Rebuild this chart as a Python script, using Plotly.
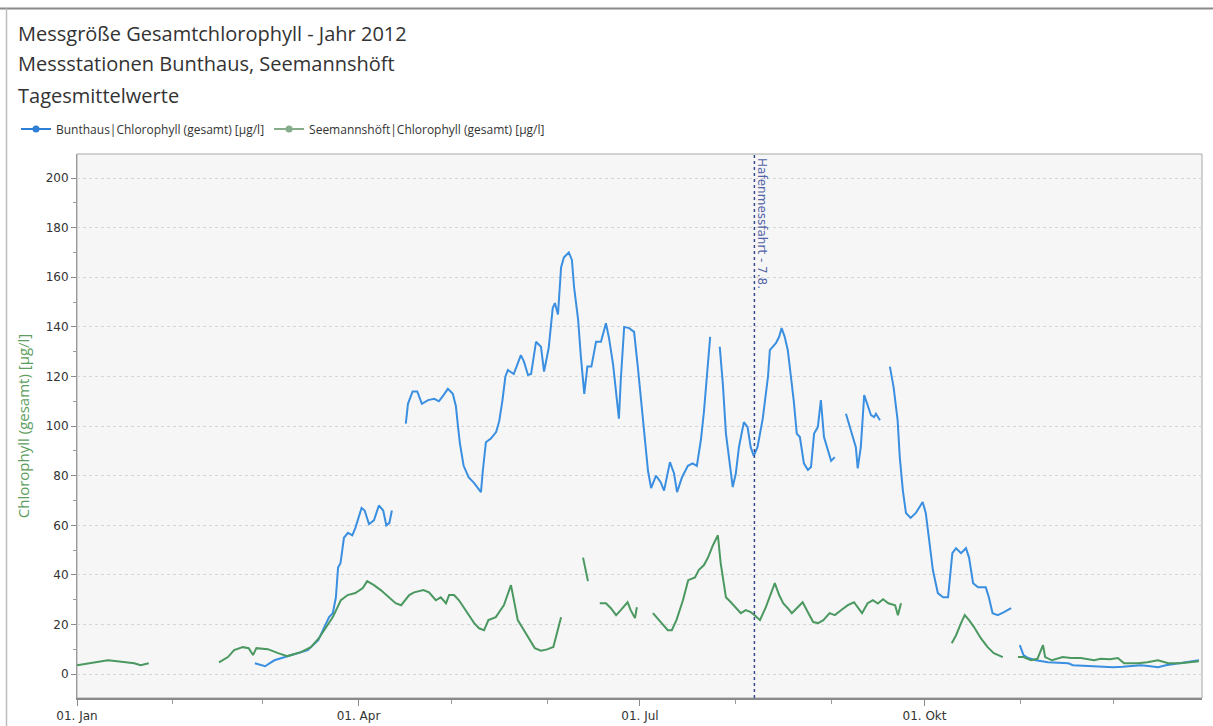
import pandas as pd
import plotly.graph_objects as go

# Day offsets from 1 Jan 2012 (None = no data) and daily mean chlorophyll [µg/l]
bunthaus_days = [
    57.5, 60.8, 63.8, 67, 70, 74.6, 78, 80, 81.5, 82.7, 83.7, 84.4, 85.2, 86.3, 87.6, 89, 90, 92, 93,
    94.4, 96, 97.6, 99, 100, 101, 101.8, None,
    106.3, 107, 108.5, 110, 111.5, 113.5, 115.5, 117, 118.5, 119.9, 121.5, 122.5, 123.2, 123.8, 125,
    126.6, 128.4, 130.6, 131.2, 132.2, 133.8, 135.5, 136.5, 137.5, 138.5, 139.3, 141.2, 143.5, 144.5,
    145.8, 146.8, 148.4, 150, 151, 152.5, 153.8, 154.5, 155.5, 156.5, 157.4, 159, 160, 160.7, 162,
    162.9, 164, 165, 166.3, 167.8, 169.4, 171, 172, 173.3, 174.3, 175.2, 175.8, 176.9, 178.5, 180.1,
    181.3, 182.3, 183.3, 184.6, 185.6, 187.2, 188.7, 189.8, 191.7, 193, 194, 195.6, 197.5, 199, 200.4,
    201.7, 202.7, 204, 204.7, None,
    207.8, 208.8, 209.8, 211, 212, 213, 214, 215.6, 216.8, 217.8, 218.8, 220, 221.7, 223.4, 224, 226,
    227, 227.8, 228.8, 229.8, 230.8, 231.7, 232.7, 233.7, 235, 236.3, 237.3, 238.3, 239.5, 240.5,
    241.5, 242.8, 243.8, 245, None,
    248.6, 250.2, 251.8, 252.4, 253.4, 254.5, 255.7, 256.7, 257.7, 258.3, 259.6, None,
    262.8, 264, 265.3, 266, 267, 268, 269.5, 271.2, 273.4, 274.4, 275.5, 276.7, 278.3, 280, 281.6,
    283, 284.2, 285.8, 287.4, 288.4, 289.7, 291.3, 293.8, 294.8, 296, 297.7, 299.7, 302, None,
    304.8, 306, 307.5, 310, 313.9, 317, 320.5, 322, 325, 328.8, 332, 335, 338, 341.7, 344, 347,
    349.5, 352, 356.8, 360, 362.7,
]
bunthaus_vals = [
    4.4, 3.2, 5.6, 6.8, 7.7, 9.7, 13.7, 19, 23, 24.6, 31, 43, 44.8, 55, 57, 56, 59, 67, 66,
    60.5, 62, 68, 66, 60, 61, 66, None,
    101, 109, 114, 114, 109, 110.5, 111, 110, 112.5, 115, 113, 108, 99.6, 93, 84,
    79.4, 77, 73.4, 82, 93.5, 95, 97.6, 102, 110, 120, 122.6, 121, 128.6, 126,
    120.6, 121, 134, 132, 122, 131.5, 147.6, 149.6, 145, 164, 168, 170, 167, 156, 143,
    128, 113, 124, 124, 134, 134, 141.5, 135.5, 125, 114.5, 103, 118.5, 140, 139.5, 138,
    124, 111.7, 99.6, 82, 75, 80, 77.4, 74, 85.5, 81, 73.4, 79.4, 84, 85, 84,
    94.4, 106, 124, 136, None,
    132, 117, 97, 86, 75.4, 81, 91.5, 101.6, 99.6, 91.5, 88, 91.5, 103, 120, 130.6, 133.5,
    136, 139.5, 136, 130.6, 120, 110.5, 97, 95.6, 85, 82.3, 83.5, 97, 99.6, 110.5,
    95.6, 90, 86, 87.5, None,
    105, 98.4, 91.5, 83, 91.5, 112.5, 107.7, 104.4, 103.6, 105, 102.4, None,
    124, 115.7, 102.4, 87.5, 74, 65, 63, 65, 69.4, 65, 54, 42, 32.7, 31, 31,
    48.8, 50.8, 48.8, 50.8, 47, 36.7, 35, 35, 31, 24.6, 23.8, 25, 26.6, None,
    11.7, 7.7, 6.5, 5.6, 4.8, 4.6, 4.4, 3.6, 3.4, 3.2, 3.0, 2.8, 3.0, 3.2, 3.6, 3.2,
    2.8, 3.6, 4.4, 5.0, 5.6,
]

seemannshoeft_days = [
    0, 2, 5.5, 8, 10, 13, 16.4, 18.5, 20.6, 23.2, None,
    45.9, 48.8, 50.8, 53.6, 55.5, 56.9, 58, 61.7, 65, 68, 72.4, 75.6, 78.2, 80.5, 82.7, 85.3, 87.5,
    90, 92.4, 93.8, 96, 98.2, 100.8, 103, 104.8, 107.4, 109, 112, 113.8, 116, 117.6, 119.3, 120.3,
    121.9, 123.5, 125.7, 128.4, 130, 131.6, 133, 135.4, 137, 138, 140.3, 141.3, 142.5, 144.5, 146,
    148, 150, 152, 154, 155.3, 156.5, None,
    163.6, 164.4, 165.2, None,
    169, 171, 172.6, 174.3, 175.8, 178, 179, 180.4, 181, None,
    186.2, 188.7, 191, 192.3, 193.8, 195.9, 197.6, 199.8, 201, 202.7, 204, 205.6, 207.2, 208.1,
    209.8, 211.4, 213, 214.6, 216.2, 217.8, 219.1, 220.8, 222.7, 224.3, 225.6, 227, 228.3, 229.8,
    231.1, 232.7, 234.6, 236.3, 238, 239.6, 241.3, 243.3, 245, 247, 249.2, 251.2, 252.4, 253.8,
    255.6, 257.3, 258.9, 260.6, 262.3, 264.5, 265.4, 266.4, None,
    282.8, 284.2, 285.8, 287, 288.4, 290, 292.2, 294.4, 296.4, 299.3, None,
    304.2, 306, 308.4, 310.5, 312.3, 313, 315.2, 318.7, 321.3, 324.5, 328.8, 331, 334, 336.5,
    338.5, 343, 346, 349.5, 352.8, 356.8, 362.7,
]
seemannshoeft_vals = [
    3.6, 4.0, 4.8, 5.2, 5.6, 5.2, 4.8, 4.4, 3.6, 4.4, None,
    4.8, 6.9, 9.7, 10.9, 10.5, 7.7, 10.5, 10.1, 8.5, 7.3, 8.9, 10.9, 14.5, 19, 23, 29.8, 31.9,
    32.7, 34.7, 37.5, 35.9, 33.9, 31, 28.6, 27.8, 31.9, 33, 33.9, 33, 29.8, 31, 28.6, 31.9,
    31.9, 29.8, 25.8, 20.6, 18.5, 17.7, 21.8, 23, 26, 27.8, 35.9, 29.8, 21.8, 17.7, 14.5,
    10.5, 9.5, 10, 11, 17, 23, None,
    47, 42, 37.5, None,
    28.6, 28.6, 26.6, 23.8, 25.8, 29, 25.8, 22.6, 27, None,
    24.6, 21, 17.7, 17.7, 21.8, 29.8, 37.9, 39, 42, 44, 47, 52, 56, 44.8,
    31, 29, 27, 24.6, 25.8, 25, 23.8, 21.8, 27, 32.7, 36.7, 31.9, 28.6, 26.6,
    24.6, 26.6, 29, 25, 21, 20.6, 21.8, 24.6, 23.8, 25.8, 27.8, 29, 27, 24.6,
    28.6, 29.8, 28.5, 30.2, 28.6, 27.8, 23.8, 28.6, None,
    12.5, 15.7, 20.6, 23.8, 21.8, 19, 14.5, 10.9, 8.5, 6.9, None,
    6.9, 6.9, 5.6, 6.2, 11.7, 6.9, 5.6, 6.9, 6.5, 6.5, 5.6, 6.2, 6.0, 6.5,
    4.4, 4.4, 4.8, 5.6, 4.4, 4.4, 5.2,
]

tick_dates = ["2012-01-01", "2012-04-01", "2012-07-01", "2012-10-01"]
tick_labels = ["01. Jan", "01. Apr", "01. Jul", "01. Okt"]
event_date = "2012-08-07"
event_label = "Hafenmessfahrt - 7.8."

YEAR_START = pd.Timestamp("2012-01-01")


def to_dates(days):
    return [None if d is None else (YEAR_START + pd.Timedelta(days=d)).isoformat() for d in days]


BLUE = "#3a8fe0"
GREEN = "#4b9860"
TEXT = "#333333"

W, H = 1213, 726
ML, MR, MT, MB = 77, 11, 154, 28
pw, ph = W - ML - MR, H - MT - MB


def px_x(px):
    return (px - ML) / pw


def px_y(py):
    return 1 - (py - MT) / ph


fig = go.Figure()

fig.add_trace(go.Scatter(
    x=to_dates(bunthaus_days), y=bunthaus_vals, mode="lines",
    line=dict(color=BLUE, width=2), connectgaps=False, showlegend=False,
    name="Bunthaus|Chlorophyll (gesamt) [µg/l]",
))
fig.add_trace(go.Scatter(
    x=to_dates(seemannshoeft_days), y=seemannshoeft_vals, mode="lines",
    line=dict(color=GREEN, width=2), connectgaps=False, showlegend=False,
    name="Seemannshöft|Chlorophyll (gesamt) [µg/l]",
))

# legend entries (line with marker symbol)
fig.add_trace(go.Scatter(
    x=[None], y=[None], mode="lines+markers", name="Bunthaus|Chlorophyll (gesamt) [µg/l]",
    line=dict(color="#2f7fd6", width=2), marker=dict(size=7, color="#2f7fd6"),
))
fig.add_trace(go.Scatter(
    x=[None], y=[None], mode="lines+markers", name="Seemannshöft|Chlorophyll (gesamt) [µg/l]",
    line=dict(color="#86ad8a", width=2), marker=dict(size=7, color="#86ad8a"),
))

# event marker line
fig.add_shape(type="line", xref="x", yref="paper", x0=event_date, x1=event_date, y0=0, y1=1,
              line=dict(color="#3b4a8c", width=1.5, dash="dot"))
fig.add_annotation(x=event_date, xref="x", y=1, yref="paper", text=event_label, textangle=90,
                   showarrow=False, xanchor="left", yanchor="top", xshift=-1, yshift=-2,
                   font=dict(family="DejaVu Sans", size=12, color="#5464a8"))

# chart titles
titles = ["Messgröße Gesamtchlorophyll - Jahr 2012", "Messstationen Bunthaus, Seemannshöft", "Tagesmittelwerte"]
title_y = [33, 63, 95]
for t, ty in zip(titles, title_y):
    fig.add_annotation(x=px_x(16), y=px_y(ty), xref="paper", yref="paper", text=t, showarrow=False,
                       xanchor="left", yanchor="middle",
                       font=dict(family="Open Sans", size=20, color=TEXT))

# outer frame lines
fig.add_shape(type="line", xref="paper", yref="paper", x0=px_x(0), x1=px_x(W), y0=px_y(8.5), y1=px_y(8.5),
              line=dict(color="#8a8a8a", width=2))
fig.add_shape(type="line", xref="paper", yref="paper", x0=px_x(6.5), x1=px_x(6.5), y0=px_y(8.5), y1=px_y(H),
              line=dict(color="#bdbdbd", width=1.5))

fig.update_layout(
    width=W, height=H,
    margin=dict(l=ML, r=MR, t=MT, b=MB, autoexpand=False),
    paper_bgcolor="white",
    plot_bgcolor="#f6f6f6",
    font=dict(family="DejaVu Sans", size=12, color=TEXT),
    legend=dict(orientation="h", x=px_x(16), y=px_y(129), xanchor="left", yanchor="middle",
                font=dict(family="Open Sans", size=12, color=TEXT), bgcolor="rgba(0,0,0,0)",
                itemwidth=30, tracegroupgap=0),
    xaxis=dict(
        type="date", range=["2012-01-01", "2012-12-29 17:00"], automargin=False,
        tickmode="array", tickvals=tick_dates, ticktext=tick_labels,
        ticks="outside", ticklen=6, tickcolor="#8a8a8a",
        minor=dict(dtick="M1", tick0="2012-01-01", ticks="outside", ticklen=4, tickcolor="#9a9a9a"),
        showgrid=False, showline=True, linecolor="#8a8a8a", linewidth=1.5, mirror=False,
        tickfont=dict(family="DejaVu Sans", size=12, color=TEXT),
    ),
    yaxis=dict(
        range=[-9.6, 209.7], dtick=20, tick0=0, automargin=False,
        ticks="outside", ticklen=5, tickcolor="#8a8a8a",
        minor=dict(dtick=10, ticks="outside", ticklen=3, tickcolor="#9a9a9a"),
        showgrid=True, gridcolor="#d6d6d6", griddash="dot", gridwidth=1,
        zeroline=False, showline=True, linecolor="#9a9a9a", linewidth=1, mirror=False,
        tickfont=dict(family="DejaVu Sans", size=12, color=TEXT),
        title=dict(text="Chlorophyll (gesamt) [µg/l]", standoff=12,
                   font=dict(family="Open Sans", size=15, color="#5d9d5d")),
    ),
)

# thin plot-area border on top and right
fig.add_shape(type="rect", xref="paper", yref="paper", x0=0, x1=1, y0=0, y1=1,
              line=dict(color="#a8a8a8", width=1), fillcolor="rgba(0,0,0,0)", layer="below")

fig.write_html("out.html")
